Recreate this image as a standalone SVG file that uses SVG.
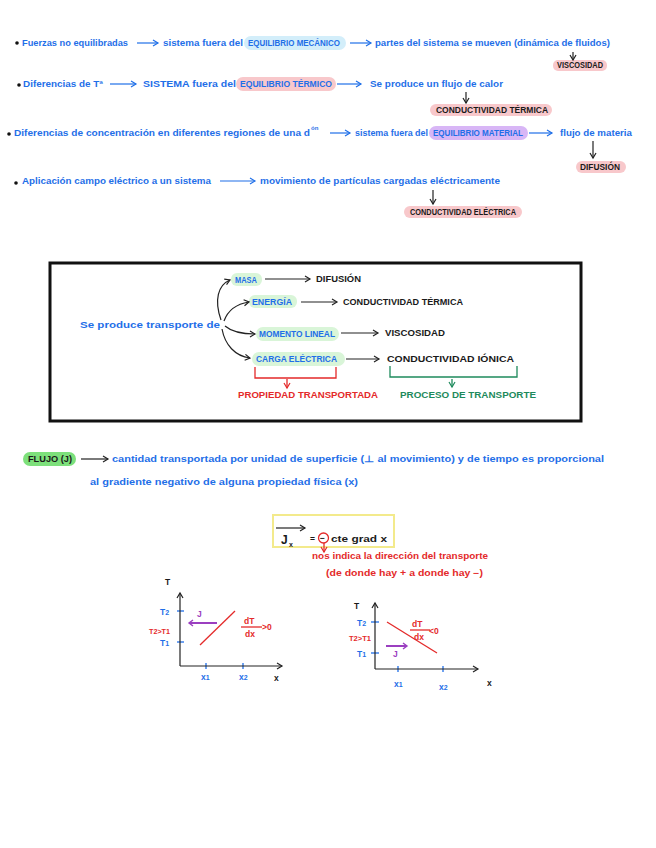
<svg xmlns="http://www.w3.org/2000/svg" width="656" height="848" viewBox="0 0 656 848">
<defs>
<style>
text{font-family:"Liberation Sans",Arial,sans-serif;font-size:8.5px;font-weight:bold}
.b{fill:#1f6fe8}.k{fill:#1a1a1a}.r{fill:#e42a2a}.g{fill:#1e8a5c}.p{fill:#9b3fc0}
.lb{stroke:#1f6fe8;stroke-width:1.2;fill:none}
.lk{stroke:#222;stroke-width:1.2;fill:none}
.lr{stroke:#e42a2a;stroke-width:1.3;fill:none}
.lg{stroke:#1e8a5c;stroke-width:1.3;fill:none}
.lp{stroke:#9b3fc0;stroke-width:2;fill:none}
.hc{fill:#d3eefa}.hp{fill:#f8c8cb}.hv{fill:#d8b6f6}.hg{fill:#d9f5d8}
.tick{stroke:#1f6fe8;stroke-width:1.3}
</style>
<marker id="ab" markerWidth="8" markerHeight="8" refX="6" refY="4" orient="auto" markerUnits="userSpaceOnUse"><path d="M1,1 L6,4 L1,7" fill="none" stroke="#1f6fe8" stroke-width="1.2"/></marker>
<marker id="ak" markerWidth="8" markerHeight="8" refX="6" refY="4" orient="auto" markerUnits="userSpaceOnUse"><path d="M1,1 L6,4 L1,7" fill="none" stroke="#222" stroke-width="1.2"/></marker>
<marker id="ar" markerWidth="8" markerHeight="8" refX="6" refY="4" orient="auto" markerUnits="userSpaceOnUse"><path d="M1,1 L6,4 L1,7" fill="none" stroke="#e42a2a" stroke-width="1.2"/></marker>
<marker id="ag" markerWidth="8" markerHeight="8" refX="6" refY="4" orient="auto" markerUnits="userSpaceOnUse"><path d="M1,1 L6,4 L1,7" fill="none" stroke="#1e8a5c" stroke-width="1.2"/></marker>
<marker id="ap" markerWidth="8" markerHeight="8" refX="5" refY="4" orient="auto" markerUnits="userSpaceOnUse"><path d="M1,1 L5,4 L1,7" fill="none" stroke="#9b3fc0" stroke-width="1.4"/></marker>
</defs>
<rect width="656" height="848" fill="#fff"/>

<!-- Line 1 -->
<g id="l1">
<circle cx="17" cy="43" r="1.8" fill="#111"/>
<text class="b" x="22" y="46" textLength="106" lengthAdjust="spacingAndGlyphs">Fuerzas no equilibradas</text>
<text class="b" x="163" y="46" textLength="80" lengthAdjust="spacingAndGlyphs">sistema fuera del</text>
<rect class="hc" x="244" y="36" width="102" height="14" rx="7"/>
<text class="b" x="248" y="46" textLength="92" lengthAdjust="spacingAndGlyphs">EQUILIBRIO MECÁNICO</text>
<text class="b" x="375" y="46" textLength="235" lengthAdjust="spacingAndGlyphs">partes del sistema se mueven (dinámica de fluidos)</text>
<rect class="hp" x="553" y="60" width="54" height="11" rx="5"/>
<text class="k" x="557" y="68" textLength="46" lengthAdjust="spacingAndGlyphs">VISCOSIDAD</text>
</g>

<!-- Line 2 -->
<g id="l2">
<circle cx="19" cy="85" r="1.8" fill="#111"/>
<text class="b" x="23" y="87" textLength="80" lengthAdjust="spacingAndGlyphs">Diferencias de Tª</text>
<text class="b" x="143" y="87" textLength="93" lengthAdjust="spacingAndGlyphs">SISTEMA fuera del</text>
<rect class="hp" x="236" y="77" width="100" height="14" rx="7"/>
<text class="b" x="240" y="87" textLength="92" lengthAdjust="spacingAndGlyphs">EQUILIBRIO TÉRMICO</text>
<text class="b" x="370" y="87" textLength="133" lengthAdjust="spacingAndGlyphs">Se produce un flujo de calor</text>
<rect class="hp" x="430" y="104" width="122" height="12" rx="6"/>
<text class="k" x="436" y="113" textLength="112" lengthAdjust="spacingAndGlyphs">CONDUCTIVIDAD TÉRMICA</text>
</g>

<!-- Line 3 -->
<g id="l3">
<circle cx="9" cy="134" r="1.8" fill="#111"/>
<text class="b" x="14" y="136" textLength="296" lengthAdjust="spacingAndGlyphs">Diferencias de concentración en diferentes regiones de una d</text>
<text class="b" x="311" y="130" style="font-size:6px">ón</text>
<text class="b" x="355" y="136" textLength="73" lengthAdjust="spacingAndGlyphs">sistema fuera del</text>
<rect class="hv" x="429" y="126" width="99" height="14" rx="7"/>
<text class="b" x="433" y="136" textLength="90" lengthAdjust="spacingAndGlyphs">EQUILIBRIO MATERIAL</text>
<text class="b" x="560" y="136" textLength="72" lengthAdjust="spacingAndGlyphs">flujo de materia</text>
<rect class="hp" x="576" y="161" width="50" height="12" rx="6"/>
<text class="k" x="580" y="170" textLength="40" lengthAdjust="spacingAndGlyphs">DIFUSIÓN</text>
</g>

<!-- Line 4 -->
<g id="l4">
<circle cx="16" cy="183" r="1.8" fill="#111"/>
<text class="b" x="22" y="184" textLength="189" lengthAdjust="spacingAndGlyphs">Aplicación campo eléctrico a un sistema</text>
<text class="b" x="260" y="184" textLength="240" lengthAdjust="spacingAndGlyphs">movimiento de partículas cargadas eléctricamente</text>
<rect class="hp" x="404" y="206" width="118" height="12" rx="6"/>
<text class="k" x="410" y="215" textLength="106" lengthAdjust="spacingAndGlyphs">CONDUCTIVIDAD ELÉCTRICA</text>
</g>

<!-- Box -->
<g id="box">
<rect x="50" y="263" width="531" height="158" fill="none" stroke="#111" stroke-width="3"/>
<text class="b" x="80" y="328" textLength="140" lengthAdjust="spacingAndGlyphs">Se produce transporte de</text>
</g>
<g id="masa">
<rect class="hg" x="231" y="273" width="31" height="13" rx="6"/>
<text class="b" x="235" y="283" textLength="22" lengthAdjust="spacingAndGlyphs">MASA</text>
<text class="k" x="316" y="282" textLength="45" lengthAdjust="spacingAndGlyphs">DIFUSIÓN</text>
</g>
<g id="energia">
<rect class="hg" x="249" y="295" width="48" height="13" rx="6"/>
<text class="b" x="252" y="305" textLength="40" lengthAdjust="spacingAndGlyphs">ENERGÍA</text>
<text class="k" x="343" y="305" textLength="120" lengthAdjust="spacingAndGlyphs">CONDUCTIVIDAD TÉRMICA</text>
</g>
<g id="momento">
<rect class="hg" x="256" y="327" width="83" height="14" rx="7"/>
<text class="b" x="259" y="337" textLength="76" lengthAdjust="spacingAndGlyphs">MOMENTO LINEAL</text>
<text class="k" x="385" y="336" textLength="60" lengthAdjust="spacingAndGlyphs">VISCOSIDAD</text>
</g>
<g id="carga">
<rect class="hg" x="252" y="352" width="93" height="14" rx="7"/>
<text class="b" x="256" y="362" textLength="81" lengthAdjust="spacingAndGlyphs">CARGA ELÉCTRICA</text>
<text class="k" x="387" y="362" textLength="127" lengthAdjust="spacingAndGlyphs">CONDUCTIVIDAD IÓNICA</text>
</g>
<g id="propiedad">
<path class="lr" d="M255,367 V378 H336 V367"/>
<text class="r" x="238" y="398" textLength="140" lengthAdjust="spacingAndGlyphs">PROPIEDAD TRANSPORTADA</text>
</g>
<g id="proceso">
<path class="lg" d="M390,366 V377 H517 V366"/>
<text class="g" x="400" y="398" textLength="136" lengthAdjust="spacingAndGlyphs">PROCESO DE TRANSPORTE</text>
</g>

<!-- Flujo -->
<g id="flujo">
<rect x="23" y="452" width="53" height="14" rx="7" fill="#7de07b"/>
<text class="k" x="28" y="462" textLength="44" lengthAdjust="spacingAndGlyphs">FLUJO (J)</text>
<text class="b" x="112" y="462" textLength="492" lengthAdjust="spacingAndGlyphs">cantidad transportada por unidad de superficie (⊥ al movimiento) y de tiempo es proporcional</text>
<text class="b" x="90" y="485" textLength="268" lengthAdjust="spacingAndGlyphs">al gradiente negativo de alguna propiedad física (x)</text>
</g>

<!-- Formula -->
<g id="formula">
<rect x="273" y="515" width="121" height="32" fill="none" stroke="#f3ea8c" stroke-width="2"/>
<text class="k" x="281" y="544" style="font-size:12px">J</text>
<text class="k" x="289" y="547" style="font-size:7px">x</text>
<text class="k" x="310" y="542">=</text>
<text class="k" x="320" y="541">−</text>
<circle cx="323.5" cy="538" r="5" fill="none" stroke="#e42a2a" stroke-width="1.3"/>
<text class="k" x="331" y="542" textLength="56" lengthAdjust="spacingAndGlyphs">cte grad x</text>
<text class="r" x="312" y="559" textLength="176" lengthAdjust="spacingAndGlyphs">nos indica la dirección del transporte</text>
<text class="r" x="326" y="576" textLength="157" lengthAdjust="spacingAndGlyphs">(de donde hay + a donde hay −)</text>
</g>

<!-- Left graph -->
<g id="graph1">
<text class="k" x="165" y="585">T</text>
<line class="tick" x1="177" y1="611" x2="184" y2="611"/>
<line class="tick" x1="177" y1="642" x2="184" y2="642"/>
<text class="b" x="160" y="615">T<tspan style="font-size:7px">2</tspan></text>
<text class="b" x="160" y="646">T<tspan style="font-size:7px">1</tspan></text>
<text class="r" x="149" y="634" textLength="21" lengthAdjust="spacingAndGlyphs" style="font-size:7px">T2&gt;T1</text>
<line class="lr" x1="200" y1="645" x2="235" y2="611"/>
<text class="p" x="197" y="617">J</text>
<text class="r" x="244" y="624">dT</text>
<line class="lr" x1="241" y1="627" x2="262" y2="627"/>
<text class="r" x="245" y="637">dx</text>
<text class="r" x="262" y="630">&gt;0</text>
<line class="tick" x1="206" y1="663" x2="206" y2="669"/>
<line class="tick" x1="243" y1="663" x2="243" y2="669"/>
<text class="b" x="201" y="680">x<tspan style="font-size:7px">1</tspan></text>
<text class="b" x="239" y="680">x<tspan style="font-size:7px">2</tspan></text>
<text class="k" x="274" y="681">x</text>
</g>

<!-- Right graph -->
<g id="graph2">
<text class="k" x="354" y="609">T</text>
<line class="tick" x1="371" y1="622" x2="379" y2="622"/>
<line class="tick" x1="371" y1="653" x2="379" y2="653"/>
<text class="b" x="357" y="626">T<tspan style="font-size:7px">2</tspan></text>
<text class="b" x="357" y="657">T<tspan style="font-size:7px">1</tspan></text>
<text class="r" x="349" y="641" textLength="22" lengthAdjust="spacingAndGlyphs" style="font-size:7px">T2&gt;T1</text>
<line class="lr" x1="387" y1="622" x2="437" y2="653"/>
<text class="p" x="393" y="657">J</text>
<text class="r" x="412" y="627">dT</text>
<line class="lr" x1="410" y1="630" x2="430" y2="630"/>
<text class="r" x="414" y="640">dx</text>
<text class="r" x="429" y="634">&lt;0</text>
<line class="tick" x1="398" y1="666" x2="398" y2="672"/>
<line class="tick" x1="443" y1="666" x2="443" y2="672"/>
<text class="b" x="394" y="687">x<tspan style="font-size:7px">1</tspan></text>
<text class="b" x="439" y="690">x<tspan style="font-size:7px">2</tspan></text>
<text class="k" x="487" y="686">x</text>
</g>

<!-- Connectors -->
<g id="connectors">
<line class="lb" x1="137" y1="43" x2="158" y2="43" marker-end="url(#ab)"/>
<line class="lb" x1="350" y1="43" x2="371" y2="43" marker-end="url(#ab)"/>
<line class="lk" x1="573" y1="52" x2="573" y2="60" marker-end="url(#ak)"/>
<line class="lb" x1="110" y1="84" x2="136" y2="84" marker-end="url(#ab)"/>
<line class="lb" x1="337" y1="84" x2="361" y2="84" marker-end="url(#ab)"/>
<line class="lk" x1="466" y1="92" x2="466" y2="103" marker-end="url(#ak)"/>
<line class="lb" x1="330" y1="133" x2="350" y2="133" marker-end="url(#ab)"/>
<line class="lb" x1="529" y1="133" x2="552" y2="133" marker-end="url(#ab)"/>
<line class="lk" x1="593" y1="141" x2="593" y2="158" marker-end="url(#ak)"/>
<line class="lb" x1="220" y1="181" x2="255" y2="181" marker-end="url(#ab)"/>
<line class="lk" x1="433" y1="190" x2="433" y2="204" marker-end="url(#ak)"/>
<path class="lk" d="M221,320 C214,300 218,285 230,280" marker-end="url(#ak)"/>
<path class="lk" d="M224,321 C228,310 236,304 249,302" marker-end="url(#ak)"/>
<path class="lk" d="M225,326 C232,332 242,334 255,334" marker-end="url(#ak)"/>
<path class="lk" d="M222,329 C225,345 235,356 250,358" marker-end="url(#ak)"/>
<line class="lk" x1="265" y1="279" x2="310" y2="279" marker-end="url(#ak)"/>
<line class="lk" x1="301" y1="302" x2="337" y2="302" marker-end="url(#ak)"/>
<line class="lk" x1="341" y1="333" x2="378" y2="333" marker-end="url(#ak)"/>
<line class="lk" x1="346" y1="359" x2="379" y2="359" marker-end="url(#ak)"/>
<line class="lr" x1="287" y1="379" x2="287" y2="388" marker-end="url(#ar)"/>
<line class="lg" x1="452" y1="379" x2="452" y2="387" marker-end="url(#ag)"/>
<line class="lk" x1="81" y1="459" x2="108" y2="459" marker-end="url(#ak)"/>
<line class="lk" x1="276" y1="528" x2="305" y2="528" marker-end="url(#ak)"/>
<line class="lr" x1="324" y1="543" x2="324" y2="552" marker-end="url(#ar)"/>
<line class="lk" x1="180" y1="666" x2="180" y2="593" marker-end="url(#ak)"/>
<line class="lk" x1="180" y1="666" x2="282" y2="666" marker-end="url(#ak)"/>
<line class="lp" x1="217" y1="623" x2="189" y2="623" marker-end="url(#ap)"/>
<line class="lk" x1="375" y1="669" x2="375" y2="603" marker-end="url(#ak)"/>
<line class="lk" x1="375" y1="669" x2="478" y2="669" marker-end="url(#ak)"/>
<line class="lp" x1="386" y1="646" x2="407" y2="646" marker-end="url(#ap)"/>
</g>
</svg>
